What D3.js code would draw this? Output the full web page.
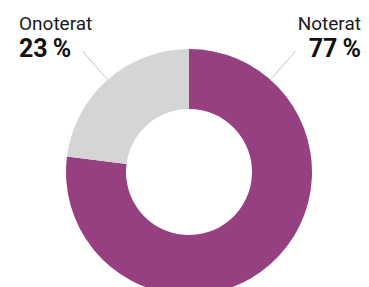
<!DOCTYPE html>
<html>
<head>
<meta charset="utf-8">
<script src="https://cdn.jsdelivr.net/npm/d3@7"></script>
<style>
  body { margin: 0; background: #fff; }
  svg { display: block; font-family: Roboto, sans-serif; }
</style>
</head>
<body>
<div id="chart"></div>
<script>
// data
const labels = ['Noterat', 'Onoterat']
const values = [77, 23]
const colors = ['#964081', '#d6d5d6']

const width = 369
const height = 287
const cx = 189
const cy = 172
const outerR = 123
const innerR = 63

const svg = d3.select('#chart')
    .append('svg')
    .attr('width', width)
    .attr('height', height)

const pie = d3.pie().sort(null).value(d => d)
const arcs = pie(values)

const arc = d3.arc().innerRadius(innerR).outerRadius(outerR)

const g = svg.append('g')
    .attr('transform', `translate(${cx},${cy})`)

g.selectAll('path')
    .data(arcs)
    .join('path')
    .attr('d', arc)
    .attr('fill', (d, i) => colors[i])

// label angle: centroid of the small slice, mirrored for the big one
const small = arcs[1]
const a0 = (small.startAngle + small.endAngle) / 2 - 2 * Math.PI
const angles = [-a0, a0]

const pt = (a, r) => [Math.sin(a) * r, -Math.cos(a) * r]

g.selectAll('line.leader')
    .data(angles)
    .join('line')
    .attr('class', 'leader')
    .attr('x1', a => pt(a, outerR)[0])
    .attr('y1', a => pt(a, outerR)[1])
    .attr('x2', a => pt(a, outerR + 38)[0])
    .attr('y2', a => pt(a, outerR + 38)[1])
    .attr('stroke', '#c4c4c4')
    .attr('stroke-width', 1)

// text labels
const lab = svg.selectAll('g.lab')
    .data(labels)
    .join('g')
    .attr('class', 'lab')
    .attr('text-anchor', (d, i) => i == 0 ? 'end' : 'start')
    .attr('transform', (d, i) => `translate(${i == 0 ? 361 : 19},0)`)

lab.append('text')
    .attr('y', 30)
    .attr('font-size', 19)
    .attr('fill', '#1a1a1a')
    .text(d => d)

lab.append('text')
    .attr('y', 57)
    .attr('font-size', 25)
    .attr('font-weight', 'bold')
    .attr('fill', '#111')
    .text((d, i) => values[i] + '\u2009%')
</script>
</body>
</html>
